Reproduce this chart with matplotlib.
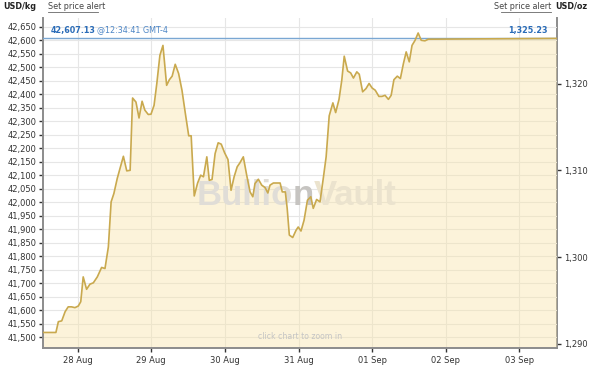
import numpy as np
import pandas as pd
import matplotlib
matplotlib.use("Agg")
import matplotlib.pyplot as plt
import matplotlib.dates as mdates
from matplotlib.ticker import FuncFormatter

# hours after 28 Aug 2017 00:00, and gold price in USD/kg
hours = [-11.2, -7.1, -6.3, -5.2, -4.1, -3.1, -2.0, -0.9, 0.2, 1.0, 1.8, 2.9, 4.0, 5.1,
         6.4, 7.8, 8.9, 10.0, 10.9, 11.8, 12.9, 13.8, 14.9, 16.0, 17.1, 17.9, 19.0, 20.0,
         21.0, 21.9, 23.0, 23.9, 24.9, 25.8, 26.8, 27.8, 29.0, 29.9, 30.8, 31.8, 32.9,
         34.0, 35.1, 36.2, 37.0, 38.0, 39.1, 40.1, 41.0, 42.1, 42.9, 43.8, 44.8, 45.8,
         46.8, 47.9, 49.0, 50.0, 51.0, 52.0, 52.9, 54.0, 55.1, 56.2, 57.1, 57.8, 58.9,
         60.0, 61.1, 62.0, 62.7, 63.8, 64.9, 66.0, 66.7, 67.7, 68.3, 69.0, 70.1, 71.2,
         71.9, 72.8, 73.8, 74.9, 76.0, 76.8, 77.9, 79.0, 80.1, 81.0, 82.0, 83.2, 84.1,
         85.2, 86.1, 86.9, 88.0, 89.0, 89.9, 91.0, 91.8, 92.9, 94.0, 95.0, 96.0, 97.0,
         98.2, 99.2, 100.2, 101.3, 102.2, 103.1, 104.2, 105.2, 106.2, 107.1, 108.1,
         109.0, 110.0, 111.0, 112.0, 113.2, 114.3, 156.2]
prices = [41517, 41517, 41557, 41560, 41594, 41612, 41612, 41609, 41615, 41631, 41723,
          41677, 41696, 41701, 41723, 41758, 41754, 41834, 42001, 42032, 42088, 42125,
          42170, 42116, 42118, 42386, 42371, 42312, 42374, 42341, 42325, 42326, 42359,
          42440, 42544, 42581, 42433, 42454, 42467, 42511, 42477, 42415, 42329, 42246,
          42246, 42023, 42071, 42100, 42094, 42168, 42081, 42084, 42180, 42220, 42215,
          42183, 42158, 42044, 42094, 42131, 42146, 42168, 42100, 42038, 42020, 42069,
          42085, 42063, 42054, 42034, 42063, 42071, 42071, 42071, 42038, 42038, 41977,
          41878, 41869, 41896, 41908, 41893, 41933, 42007, 42020, 41977, 42010, 42001,
          42091, 42168, 42320, 42368, 42332, 42381, 42452, 42541, 42486, 42479, 42460,
          42483, 42474, 42409, 42421, 42440, 42423, 42415, 42392, 42392, 42396, 42381,
          42396, 42454, 42467, 42458, 42514, 42557, 42520, 42581, 42600, 42627, 42600,
          42598, 42604, 42607]
last_price = 42607.13
last_oz = 1325.23
kg_per_oz = 32.1507
left_ticks = list(range(41500, 42651, 50))
right_ticks = [1290, 1300, 1310, 1320]

base = pd.Timestamp("2017-08-28")
t = [base + pd.Timedelta(hours=h) for h in hours]

fig = plt.figure(figsize=(6, 3.65), dpi=100)
ax = fig.add_axes([0.0717, 0.047, 0.8563, 0.904])

ax.fill_between(t, prices, 41000, color="#f9e4a8", alpha=0.42, lw=0, zorder=2)
ax.plot(t, prices, color="#c9a94e", lw=1.2, zorder=4)
ax.axhline(last_price, color="#7aa7d3", lw=1.0, zorder=3)

ax.set_ylim(41460, 42683)
ax.set_xlim(base + pd.Timedelta(hours=-11.3), base + pd.Timedelta(hours=156.2))
ax.set_yticks(left_ticks)
ax.yaxis.set_major_formatter(FuncFormatter(lambda v, p: f"{v:,.0f}"))
ax.xaxis.set_major_locator(mdates.DayLocator())
ax.xaxis.set_major_formatter(mdates.DateFormatter("%d %b"))
ax.grid(True, color="#e6e6e6", lw=0.8, zorder=1)
ax.set_axisbelow(True)

ax.spines["top"].set_visible(False)
ax.spines["right"].set_visible(False)
ax.spines["left"].set_color("#8c8c8c")
ax.spines["left"].set_linewidth(1.4)
ax.spines["bottom"].set_color("#8c8c8c")
ax.spines["bottom"].set_linewidth(1.4)
ax.tick_params(axis="both", labelsize=6, colors="#333333", length=3, width=1, pad=1.5)
ax.tick_params(axis="x", pad=3)

sec = ax.secondary_yaxis("right", functions=(lambda v: v / kg_per_oz, lambda v: v * kg_per_oz))
sec.set_yticks(right_ticks)
sec.yaxis.set_major_formatter(FuncFormatter(lambda v, p: f"{v:,.0f}"))
sec.tick_params(labelsize=6, colors="#333333", length=3, width=1, pad=2)
sec.spines["right"].set_color("#8c8c8c")
sec.spines["right"].set_linewidth(1.4)

# current price labels
ytr = ax.get_yaxis_transform()
t1 = ax.text(0.014, last_price + 14, f"{last_price:,.2f}", transform=ytr,
             fontsize=5.8, color="#2a6cb8", fontweight="bold", va="bottom", zorder=5)
ax.annotate("@12:34:41 GMT-4", xy=(1, 0), xycoords=t1, xytext=(1.5, 0),
            textcoords="offset points", fontsize=5.8, color="#4d86c6", va="bottom", zorder=5)
ax.text(0.983, last_price + 14, f"{last_oz:,.2f}", transform=ytr,
        fontsize=5.8, color="#2a6cb8", fontweight="bold", va="bottom", ha="right", zorder=5)

# watermark
wm = dict(fontsize=25, fontweight="bold", family="Liberation Sans", zorder=3)
w1 = ax.text(0.298, 0.462, "Bullio", transform=ax.transAxes, ha="left", va="center",
             color="#e0ddd7", **wm)
w2 = ax.annotate("n", xy=(1, 0), xycoords=w1, xytext=(0, 0), textcoords="offset points",
                 va="bottom", color="#c6c4c1", **wm)
ax.annotate("Vault", xy=(1, 0), xycoords=w2, xytext=(0, 0), textcoords="offset points",
            va="bottom", color="#ebe3ce", **wm)
ax.text(0.5, 0.035, "click chart to zoom in", transform=ax.transAxes, ha="center",
        va="center", fontsize=5.6, color="#c4c4c4", zorder=5)

# header labels
fig.text(0.005, 0.983, "USD/kg", fontsize=5.8, fontweight="bold", color="#222222", va="center")
fig.text(0.08, 0.983, "Set price alert", fontsize=5.8, color="#444444", va="center")
fig.text(0.918, 0.983, "Set price alert", fontsize=5.8, color="#444444", va="center", ha="right")
fig.text(0.925, 0.983, "USD/oz", fontsize=5.8, fontweight="bold", color="#222222", va="center")
fig.add_artist(plt.Line2D([0.08, 0.163], [0.967, 0.967], color="#666666", lw=0.6))
fig.add_artist(plt.Line2D([0.835, 0.918], [0.967, 0.967], color="#666666", lw=0.6))

fig.savefig("out.png", dpi=100, facecolor="white")
